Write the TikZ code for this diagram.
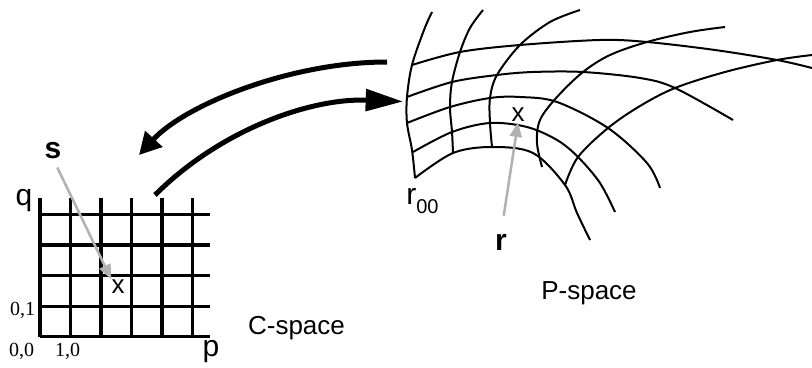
\documentclass[tikz,border=0pt]{standalone}
\usepackage{fontspec}
\setmainfont{Liberation Sans}
\newfontfamily\numfont{Liberation Serif}
\usetikzlibrary{arrows.meta}
\tikzset{
  maparrow/.style={line width=3.75pt},
  pointer/.style={-{Triangle[length=11pt,width=9pt]}, line width=1.9pt, draw=black!30, fill=black!30},
  cgrid/.style={line width=2.4pt},
  pgrid/.style={line width=1.5pt},
  txt/.style={anchor=base, inner sep=0pt, font=\fontsize{19.5}{23}\selectfont},
  axistxt/.style={txt, font=\fontsize{22.5}{26}\selectfont},
  vectxt/.style={txt, font=\fontsize{22.5}{26}\selectfont\bfseries},
  numtxt/.style={anchor=base, inner sep=0pt, font=\numfont\fontsize{15}{18}\selectfont}
}

\begin{document}
\begin{tikzpicture}[x=0.75pt, y=-0.75pt]
  \useasboundingbox (0,0) rectangle (812,367);

  % C-space grid
  \foreach \i in {0,...,5}
    \draw[cgrid] (40+30.5*\i,198) -- (40+30.5*\i,336.7);
  \foreach \j in {0,...,4}
    \draw[cgrid] (40,336.7-30.6*\j) -- (210,336.7-30.6*\j);

  \node[axistxt] (q) at (24,205) {q};
  \node[axistxt] (p) at (211,356) {p};
  \node[numtxt] (n01) at (22.5,315) {0,1};
  \node[numtxt] (n00) at (21.5,356) {0,0};
  \node[numtxt] (n10) at (67.5,356) {1,0};
  \node[txt] (cx) at (118,293.3) {x};
  \node[vectxt] (s) at (53,158) {s};
  \node[txt] (cspace) at (296.5,334) {C-space};

  % P-space grid, one family of lines
  \draw[pgrid] plot[smooth, tension=0.55] coordinates {(432,12) (424,30) (412,65) (407,97) (407,123) (412,150) (415,178)};
  \draw[pgrid] plot[smooth, tension=0.55] coordinates {(483,10) (470,28) (460,52) (452,82) (450,107) (452,132) (453,153)};
  \draw[pgrid] plot[smooth, tension=0.55] coordinates {(580,10) (550,22) (520,45) (497,75) (490,98) (490,123) (492,147)};
  \draw[pgrid] plot[smooth, tension=0.55] coordinates {(725,27) (690,32) (647,42) (610,55) (583,72) (557,97) (540,120) (537,143) (542,167)};
  \draw[pgrid] plot[smooth, tension=0.55] coordinates {(812,55) (777,60) (725,72) (675,88) (640,106) (608,128) (578,157) (565,185)};
  % the other family
  \draw[pgrid] plot[smooth, tension=0.55] coordinates {(412,65) (460,52) (520,45) (600,40) (647,42) (715,50) (777,60) (812,68)};
  \draw[pgrid] plot[smooth, tension=0.55] coordinates {(407,97) (452,82) (497,75) (533,72) (583,72) (640,78) (675,88) (733,120)};
  \draw[pgrid] plot[smooth, tension=0.55] coordinates {(407,123) (450,107) (490,98) (520,97) (557,102) (608,128) (647,163) (660,188)};
  \draw[pgrid] plot[smooth, tension=0.55] coordinates {(413,152) (452,132) (490,123) (527,127) (557,140) (578,157) (600,183) (615,212)};
  \draw[pgrid] plot[smooth, tension=0.55] coordinates {(415,178) (453,153) (492,147) (533,153) (565,185) (577,213) (590,240)};

  \node[axistxt, anchor=base west] (r00) at (406,204) {r\raisebox{-6.75pt}{\fontsize{15}{15}\selectfont 00}};
  \node[txt] (px) at (518,122) {x};
  \node[vectxt] (r) at (501,250) {r};
  \node[txt] (pspace) at (589,299) {P-space};

  % mappings between the spaces
  \coordinate (ptop) at (387,62);
  \coordinate (cend) at (139,155);
  \coordinate (cstart) at (155,195);
  \coordinate (pend) at (403,101.5);
  \draw[maparrow, -{Triangle[length=16.5pt,width=17pt]}] (ptop) .. controls (290,62) and (185,105) .. (cend);
  \draw[maparrow, -{Triangle[length=28pt,width=16pt]}] (cstart) .. controls (220,130) and (310,98) .. (pend);

  % pointers
  \draw[pointer, shorten <=7.5pt] (s.south) -- (cx.north west);
  \draw[pointer, shorten <=13.5pt] (r.north) -- (px.south);
\end{tikzpicture}
\end{document}
